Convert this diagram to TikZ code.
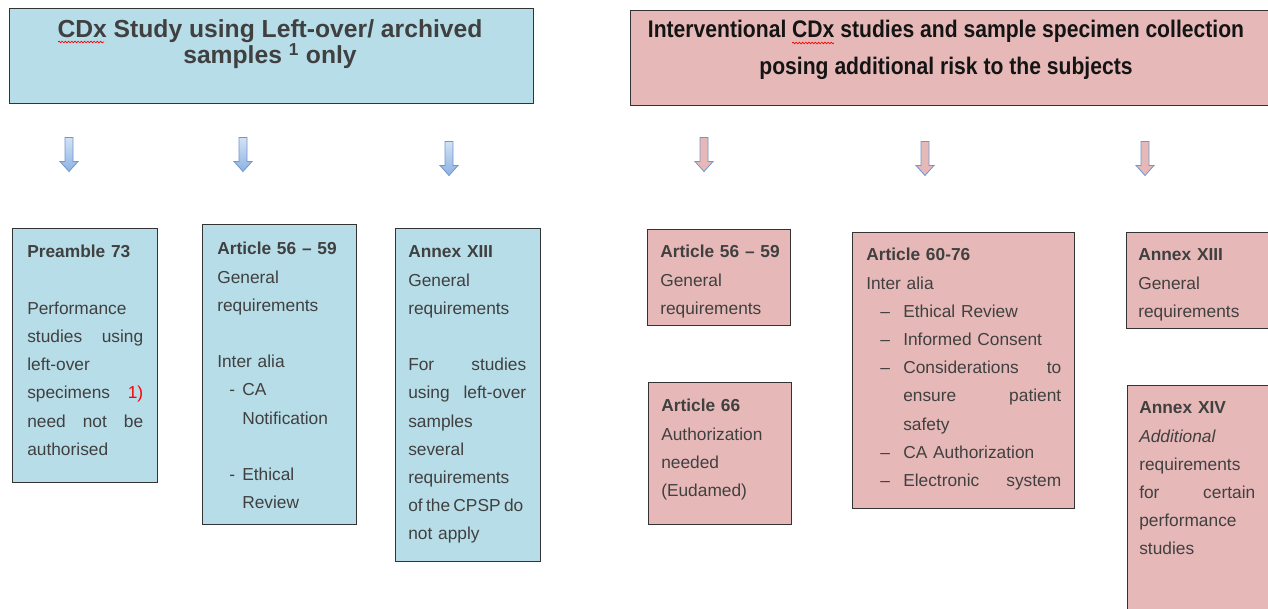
\documentclass[tikz,border=0pt]{standalone}
\usepackage{fontspec}
\setmainfont{Liberation Sans}
\newfontfamily\narrowsans[FakeStretch=0.88]{Liberation Sans}
\usetikzlibrary{decorations.pathmorphing}
\definecolor{bluefill}{HTML}{B7DDE8}
\definecolor{pinkfill}{HTML}{E6B9B8}
\definecolor{txt}{HTML}{404040}
\definecolor{arrowborder}{HTML}{7096CC}
\definecolor{arrowtop}{HTML}{D3E2F5}
\definecolor{arrowbot}{HTML}{8CB2E2}
\begin{document}
\begin{tikzpicture}[x=0.75pt,y=-0.75pt,
  box/.style={draw=black!80, line width=0.8pt, inner sep=0pt, anchor=north west},
  bluebox/.style={box, fill=bluefill},
  pinkbox/.style={box, fill=pinkfill},
  body/.style={anchor=base west, inner sep=0pt, align=left, text=txt,
    font=\fontsize{13}{21.15}\selectfont},
  downarrow/.pic={\path[pic actions] (-4,-17) -- (4,-17) -- (4,7) -- (9,7) -- (0,17)
    -- (-9,7) -- (-4,7) -- cycle;},
  arrowline/.style={draw=arrowborder, line width=0.6pt, line join=miter},
  bluearrow/.style={arrowline, top color=arrowtop, bottom color=arrowbot},
  pinkarrow/.style={arrowline, fill=pinkfill},
  squiggle/.style={red, line width=0.5pt, decorate,
    decoration={snake, amplitude=0.6pt, segment length=2.4pt}}
]
\useasboundingbox (0,0) rectangle (1268,609);
\clip (0,0) rectangle (1268,609);

% headers
\node[bluebox, minimum width=393pt, minimum height=71.25pt] (hl) at (9,8) {};
\node[pinkbox, minimum width=483.75pt, minimum height=71.25pt] (hr) at (630,10) {};
\node[anchor=base, inner sep=0pt, align=center, text=txt,
  font=\bfseries\fontsize{18.5}{19.5}\selectfont] (hlt) at (270,64)
  {CDx Study using Left-over/ archived\\samples \textsuperscript{1} only};
\node[anchor=base, inner sep=0pt, align=center, text=black!92,
  font=\narrowsans\bfseries\fontsize{18}{27.75}\selectfont] (hrt) at (946,75)
  {Interventional CDx studies and sample specimen collection\\posing additional risk to the subjects};
\draw[squiggle] (58,42) -- (104,42);
\draw[squiggle] (792,43) -- (834,43);

% arrows
\pic[bluearrow] (a1) at (69,154.5) {downarrow};
\pic[bluearrow] (a2) at (243,154.5) {downarrow};
\pic[bluearrow] (a3) at (449,158.5) {downarrow};
\pic[pinkarrow] (a4) at (704,154.5) {downarrow};
\pic[pinkarrow] (a5) at (925,158.5) {downarrow};
\pic[pinkarrow] (a6) at (1145,158.5) {downarrow};

% left boxes
\node[bluebox, minimum width=108.75pt, minimum height=190.5pt] (b1) at (12,228) {};
\node[body, text width=87pt] (t1) at (27,258) {\textbf{Preamble 73}\\[21.15pt]
Performance\\
studies\hfill using\\
left-over\\
specimens\hfill{\color{red}1)}\\
need\hfill not\hfill be\\
authorised};

\node[bluebox, minimum width=115.5pt, minimum height=225pt] (b2) at (202,224) {};
\node[body, text width=105pt] (t2) at (217,255) {\textbf{Article 56 – 59}\\
General\\
requirements\\[21.15pt]
Inter alia\\
\makebox[18.75pt][l]{\hspace*{9pt}-}CA\\
\hspace*{18.75pt}Notification\\[21.15pt]
\makebox[18.75pt][l]{\hspace*{9pt}-}Ethical\\
\hspace*{18.75pt}Review};

\node[bluebox, minimum width=108.75pt, minimum height=249.75pt] (b3) at (395,228) {};
\node[body, text width=88.5pt] (t3) at (408,258) {\textbf{Annex XIII}\\
General\\
requirements\\[21.15pt]
For\hfill studies\\
using\hfill left-over\\
samples\\
several\\
requirements\\
\makebox[\linewidth][l]{of\hspace{2.5pt}the\hspace{2.5pt}CPSP\hspace{2.5pt}do}\\
not apply};

% right boxes
\node[pinkbox, minimum width=107.25pt, minimum height=72pt] (b4) at (647,229) {};
\node[body, text width=100pt] (t4) at (660,258) {\textbf{Article 56 – 59}\\
General\\
requirements};

\node[pinkbox, minimum width=107.25pt, minimum height=106.5pt] (b5) at (648,382) {};
\node[body, text width=100pt] (t5) at (661,412) {\textbf{Article 66}\\
Authorization\\
needed\\
(Eudamed)};

\node[pinkbox, minimum width=166.5pt, minimum height=207pt] (b6) at (852,232) {};
\node[body, text width=146.25pt] (t6) at (866,261) {\textbf{Article 60-76}\\
Inter alia\\
\makebox[27.75pt][l]{\hspace*{10.5pt}–}Ethical Review\\
\makebox[27.75pt][l]{\hspace*{10.5pt}–}Informed Consent\\
\makebox[27.75pt][l]{\hspace*{10.5pt}–}Considerations\hfill to\\
\hspace*{27.75pt}ensure\hfill patient\\
\hspace*{27.75pt}safety\\
\makebox[27.75pt][l]{\hspace*{10.5pt}–}CA Authorization\\
\makebox[27.75pt][l]{\hspace*{10.5pt}–}Electronic\hfill system};

\node[pinkbox, minimum width=111.75pt, minimum height=72pt] (b7) at (1126,232) {};
\node[body, text width=100pt] (t7) at (1138,261) {\textbf{Annex XIII}\\
General\\
requirements};

\node[pinkbox, minimum width=111pt, minimum height=176.25pt] (b8) at (1127,385) {};
\node[body, text width=87pt] (t8) at (1139,414) {\textbf{Annex XIV}\\
\textit{Additional}\\
requirements\\
for\hfill certain\\
performance\\
studies};
\end{tikzpicture}
\end{document}
